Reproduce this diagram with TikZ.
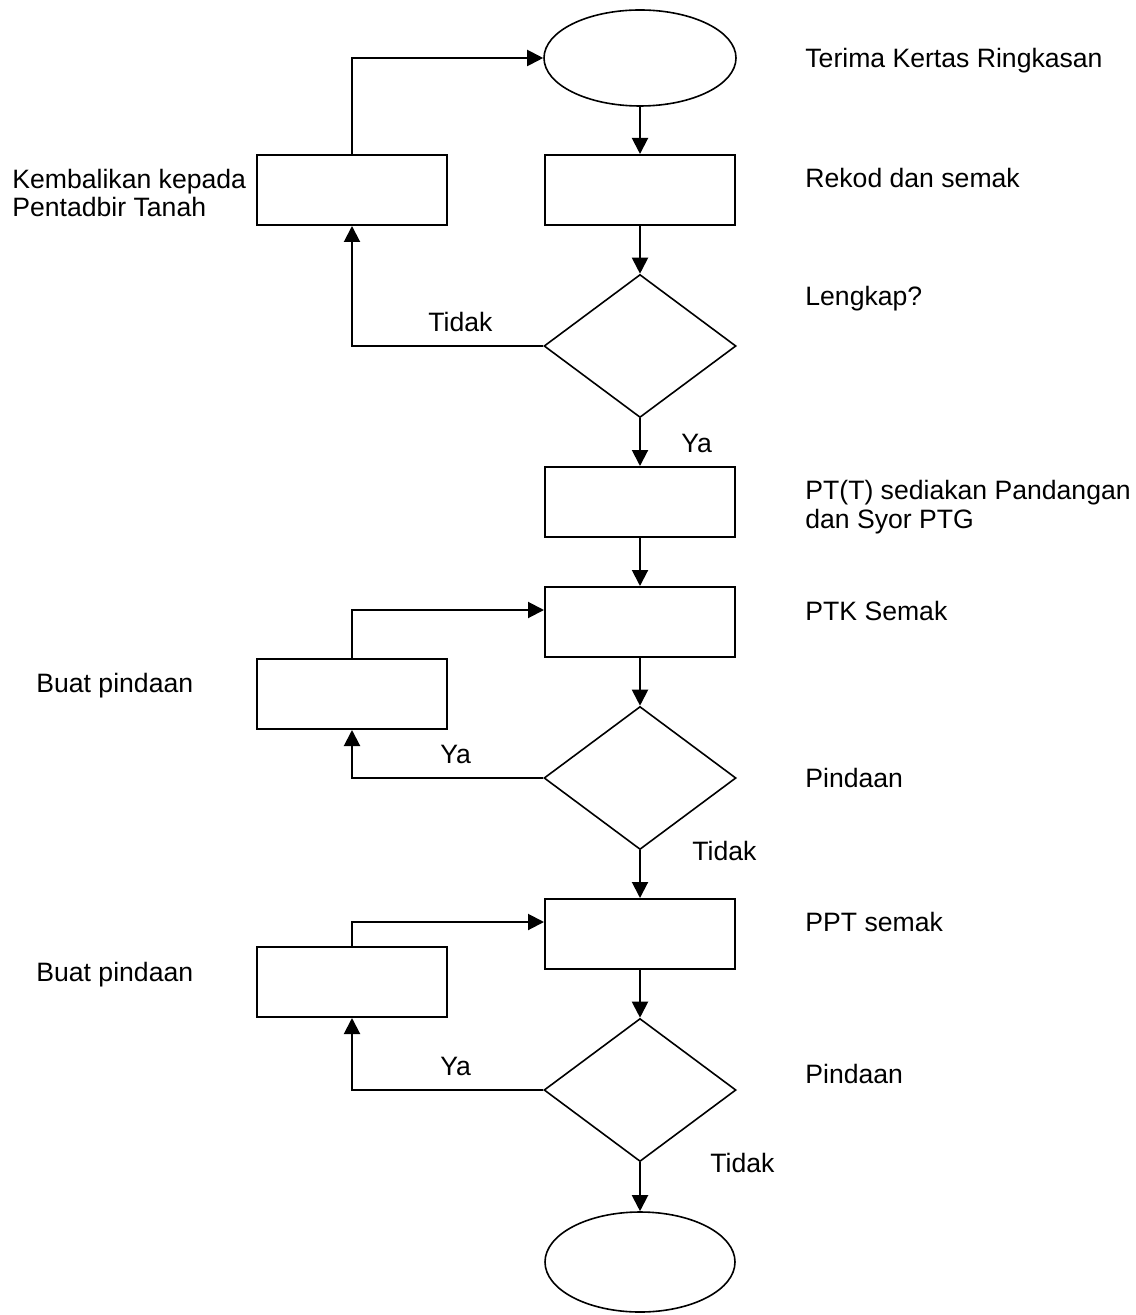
\documentclass[tikz,border=0pt]{standalone}
\usepackage{fontspec}
\setmainfont{Liberation Sans}
\usetikzlibrary{shapes.geometric,arrows.meta}

\begin{document}
\begin{tikzpicture}[x=0.5pt, y=-0.5pt,
    every node/.style={font=\fontsize{13.3}{14.4}\selectfont},
    box/.style={draw, line width=1pt, minimum width=95pt, minimum height=35pt, inner sep=0pt},
    decide/.style={draw, diamond, line width=0.8pt, minimum width=96pt, minimum height=71.5pt, inner sep=0pt},
    term/.style={draw, ellipse, line width=0.8pt, minimum width=96pt, minimum height=48pt, inner sep=0pt},
    lbl/.style={anchor=base west, inner sep=0pt, align=left},
    arr/.style={line width=1pt, -{Triangle[length=8pt,width=8pt]}}]
  \useasboundingbox (0,0) rectangle (1135,1315);

  % main column
  \node[term] (mula) at (640,58) {};
  \node[box] (rekod) at (640,190) {};
  \node[decide] (lengkap) at (640,346) {};
  \node[box] (sedia) at (640,502) {};
  \node[box] (ptk) at (640,622) {};
  \node[decide] (pinda1) at (640,778) {};
  \node[box] (ppt) at (640,934) {};
  \node[decide] (pinda2) at (640,1090) {};
  \node[term, minimum width=95pt, minimum height=50pt] (tamat) at (640,1262) {};

  % side column
  \node[box] (kembali) at (352,190) {};
  \node[box] (buat1) at (352,694) {};
  \node[box] (buat2) at (352,982) {};

  % texts
  \node[lbl] (tMula) at (805,68) {Terima Kertas Ringkasan};
  \node[lbl] (tRekod) at (805,188) {Rekod dan semak};
  \node[lbl] (tLengkap) at (805,306) {Lengkap?};
  \node[lbl] (tSedia) at (805,528) {PT(T) sediakan Pandangan\\dan Syor PTG};
  \node[lbl] (tPtk) at (805,620) {PTK Semak};
  \node[lbl] (tPinda1) at (805,787) {Pindaan};
  \node[lbl] (tPpt) at (805,931) {PPT semak};
  \node[lbl] (tPinda2) at (805,1083) {Pindaan};
  \node[lbl] (tKembali) at (12,217) {Kembalikan kepada\\Pentadbir Tanah};
  \node[lbl] (tBuat1) at (36,692) {Buat pindaan};
  \node[lbl] (tBuat2) at (36,981) {Buat pindaan};

  % flow
  \draw[arr] (mula) -- (rekod);
  \draw[arr] (rekod) -- (lengkap);
  \draw[arr] (lengkap.west) -| (kembali.south);
  \node[lbl] at (428,332) {Tidak};
  \draw[arr] (kembali.north) |- (mula.west);
  \draw[arr] (lengkap) -- (sedia);
  \node[lbl] at (681,452) {Ya};
  \draw[arr] (sedia) -- (ptk);
  \draw[arr] (ptk) -- (pinda1);
  \draw[arr] (pinda1.west) -| (buat1.south);
  \node[lbl] at (440,763) {Ya};
  \draw[arr] (buat1.north) |- ([yshift=6pt]ptk.west);
  \draw[arr] (pinda1) -- (ppt);
  \node[lbl] at (692,860) {Tidak};
  \draw[arr] (ppt) -- (pinda2);
  \draw[arr] (pinda2.west) -| (buat2.south);
  \node[lbl] at (440,1075) {Ya};
  \draw[arr] (buat2.north) |- ([yshift=6pt]ppt.west);
  \draw[arr] (pinda2) -- (tamat);
  \node[lbl] at (710,1172) {Tidak};
\end{tikzpicture}
\end{document}
